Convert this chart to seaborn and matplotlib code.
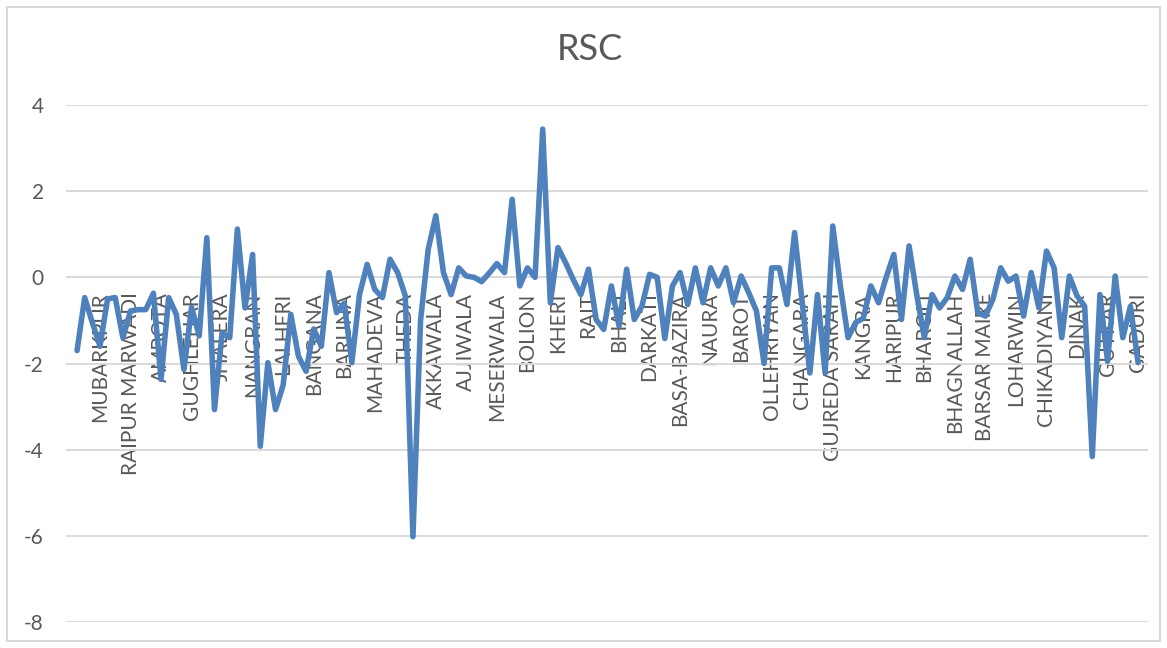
import matplotlib
matplotlib.use("Agg")
import matplotlib.pyplot as plt
import matplotlib.patches as patches
import numpy as np
import pandas as pd
import seaborn as sns

# RSC value for each site, in survey order
rsc = [
    -1.7, -0.47, -1.05, -1.6, -0.5, -0.47, -1.4, -0.78, -0.75, -0.75,
    -0.37, -2.37, -0.47, -0.86, -2.14, -0.7, -1.36, 0.92, -3.07, -1.29,
    -1.4, 1.12, -0.71, 0.53, -3.92, -1.98, -3.07, -2.5, -0.86, -1.83,
    -2.18, -1.2, -1.6, 0.11, -0.82, -0.6, -1.98, -0.4, 0.3, -0.28,
    -0.47, 0.42, 0.11, -0.43, -6.02, -1.0, 0.65, 1.43, 0.11, -0.4,
    0.22, 0.03, 0.0, -0.1, 0.1, 0.32, 0.11, 1.81, -0.2, 0.22,
    0.0, 3.44, -0.59, 0.69, 0.34, -0.05, -0.4, 0.19, -0.98, -1.21,
    -0.2, -1.13, 0.19, -0.98, -0.67, 0.07, 0.0, -1.42, -0.2, 0.11,
    -0.63, 0.22, -0.59, 0.22, -0.2, 0.22, -0.59, 0.03, -0.36, -0.78,
    -2.0, 0.22, 0.22, -0.63, 1.04, -0.6, -2.22, -0.4, -2.22, 1.19,
    -0.2, -1.4, -1.05, -0.95, -0.2, -0.59, 0.0, 0.53, -0.98, 0.73,
    -0.4, -1.4, -0.4, -0.71, -0.47, 0.03, -0.28, 0.42, -0.82, -0.9,
    -0.5, 0.22, -0.09, 0.03, -0.9, 0.11, -0.71, 0.61, 0.22, -1.4,
    0.03, -0.43, -0.67, -4.16, -0.4, -1.95, 0.03, -1.4, -0.67, -1.98,
]

# Site names shown on the category axis (every fourth site)
site_labels = [
    "MUBARKPUR", "RAIPUR MARWADI", "AMBOTA", "GUGHLEHAR", "JHALERA",
    "NANGRAN", "LALHERI", "BANGANA", "BARUNA", "MAHADEVA", "THEDA",
    "AKKAWALA", "AJJIWALA", "MESERWALA", "BOLION", "KHERI", "RAIT",
    "BHALI", "DARKATI", "BASA-BAZIRA", "NAURA", "BAROT", "OLLEHRIYAN",
    "CHANGARA", "GUJREDA SARAH", "KANGRA", "HARIPUR", "BHAROLI",
    "BHAGNALLAH", "BARSAR MAIRE", "LOHARWIN", "CHIKADIYANI", "DINAK",
    "GUTKAR", "GADURI",
]

y_ticks = [-8, -6, -4, -2, 0, 2, 4]

sns.set_style("white")
plt.rcParams["font.family"] = ["Lato", "DejaVu Sans"]

W, H = 1167, 648
fig = plt.figure(figsize=(W / 100, H / 100), dpi=100)
left, right, top, bottom = 66, 1148, 105, 622
ax = fig.add_axes([left / W, 1 - bottom / H, (right - left) / W, (bottom - top) / H])

df = pd.DataFrame({"site": np.arange(len(rsc)), "rsc": rsc})
sns.lineplot(data=df, x="site", y="rsc", ax=ax, color="#4F81BD", linewidth=4.0,
             solid_joinstyle="round", solid_capstyle="round", zorder=3)

ax.set_ylim(-8, 4)
ax.set_xlim(-1.45, len(rsc) - 1 + 1.3)
ax.set_yticks(y_ticks)
ax.set_yticklabels([str(t) for t in y_ticks])
ax.yaxis.grid(True, color="#D9D9D9", linewidth=1.4)
ax.xaxis.grid(False)
ax.set_axisbelow(True)

# category labels hang below the zero line
ax.spines["bottom"].set_position(("data", 0))
for s in ax.spines.values():
    s.set_visible(False)
ax.set_xticks(np.arange(3, len(rsc), 4))
ax.set_xticklabels(site_labels, rotation=90, va="top", ha="center")
ax.tick_params(axis="x", length=0, pad=11, labelsize=15, labelcolor="#595959")
ax.tick_params(axis="y", length=0, pad=16, labelsize=15, labelcolor="#595959")
ax.set_xlabel("")
ax.set_ylabel("")

fig.text(590 / W, 1 - 50 / H, "RSC", ha="center", va="center",
         fontsize=26, color="#595959")

fig.patches.append(patches.Rectangle((7 / W, 7 / H), (1160 - 7) / W, (641 - 7) / H,
                                     transform=fig.transFigure, fill=False,
                                     edgecolor="#D9D9D9", linewidth=1.5))

fig.savefig("out.png", dpi=100)
